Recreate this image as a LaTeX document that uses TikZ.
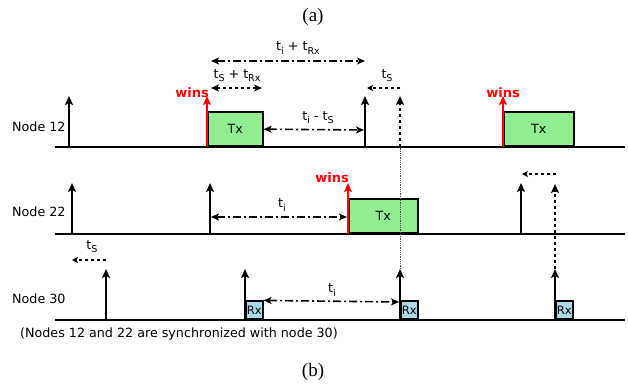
\documentclass[tikz,border=0pt]{standalone}
\usepackage{fontspec}
\setsansfont{DejaVu Sans}
\newfontfamily\capfont{Liberation Serif}
\usetikzlibrary{arrows.meta}
\definecolor{txgreen}{HTML}{90EE90}
\definecolor{rxblue}{HTML}{ADD8E6}
\newcommand{\sbs}[1]{\raisebox{-0.45ex}{\fontsize{9.5pt}{10pt}\selectfont #1}}
\begin{document}
\begin{tikzpicture}[x=1pt,y=-1pt,
  every node/.style={font=\sffamily\fontsize{12.7pt}{14pt}\selectfont, inner sep=0pt},
  baseline/.style={line width=2pt},
  tick/.style={line width=1.6pt,-{Stealth[length=9pt,width=8pt,inset=2pt]}},
  redtick/.style={tick, red, line width=2pt},
  dd/.style={line width=1.6pt, dash pattern=on 8pt off 3pt on 2pt off 3pt},
  ds/.style={line width=1.6pt, dash pattern=on 3.5pt off 2.5pt},
  both/.style={{Stealth[length=8pt,width=7pt,inset=2pt]}-{Stealth[length=8pt,width=7pt,inset=2pt]}},
  smalltip/.style={-{Stealth[length=6pt,width=6pt,inset=1.5pt]}},
  txbox/.style={draw, fill=txgreen, line width=1.6pt, anchor=south west, minimum width=55pt, minimum height=34pt},
  rxbox/.style={draw, fill=rxblue, line width=1.6pt, anchor=south west, minimum width=17pt, minimum height=18pt, font=\sffamily\fontsize{11.5pt}{12pt}\selectfont},
  wins/.style={red, font=\sffamily\bfseries\fontsize{13pt}{14pt}\selectfont}
]
\useasboundingbox (0,0) rectangle (628,383);

% captions
\node[font=\capfont\fontsize{19pt}{21pt}\selectfont] (capa) at (313,17) {(a)};
\node[font=\capfont\fontsize{19pt}{21pt}\selectfont] (capb) at (313,372) {(b)};

% node labels
\node[anchor=west] (n12) at (12,127) {Node 12};
\node[anchor=west] (n22) at (12,212) {Node 22};
\node[anchor=west] (n30) at (12,299) {Node 30};
\node[anchor=west] (note) at (20,334) {(Nodes 12 and 22 are synchronized with node 30)};

% ---------- baselines
\coordinate (b12a) at (55,147); \coordinate (b12b) at (625,147);
\coordinate (b22a) at (55,234); \coordinate (b22b) at (625,234);
\coordinate (b30a) at (55,320); \coordinate (b30b) at (625,320);
\draw[baseline] (b12a) -- (b12b);
\draw[baseline] (b22a) -- (b22b);
\draw[baseline] (b30a) -- (b30b);

% ---------- Node 30
\node[rxbox] (rx1) at (245,320) {Rx};
\node[rxbox] (rx2) at (400,320) {Rx};
\node[rxbox] (rx3) at (555,320) {Rx};
\coordinate (c30a) at (106,320); \coordinate (t30a) at (106,269);
\coordinate (t30b) at (245,269);
\coordinate (t30c) at (400,269);
\coordinate (t30d) at (555,269);
\draw[tick] (c30a) -- (t30a);
\draw[tick] (rx1.south west) -- (t30b);
\draw[tick] (rx2.south west) -- (t30c);
\draw[tick] (rx3.south west) -- (t30d);
\coordinate (s30a) at (106,260); \coordinate (s30b) at (72,260);
\draw[ds,smalltip] (s30a) -- (s30b);
\node (ls30) at (92,247) {t\sbs{S}};
\coordinate (i30b) at (399,302);
\draw[dd,both] (rx1.north east) -- (i30b);
\node (li30) at (332,290) {t\sbs{i}};

% ---------- Node 22
\node[txbox, minimum width=69pt] (tx3) at (348,234) {Tx};
\coordinate (c22a) at (72,234); \coordinate (t22a) at (72,183);
\coordinate (c22b) at (210,234); \coordinate (t22b) at (210,183);
\coordinate (t22r) at (348,183);
\coordinate (c22c) at (521,234); \coordinate (t22c) at (521,183);
\coordinate (t22d) at (555,184);
\draw[tick] (c22a) -- (t22a);
\draw[tick] (c22b) -- (t22b);
\draw[tick] (c22c) -- (t22c);
\draw[redtick] (tx3.south west) -- (t22r);
\node[wins, anchor=base east] (w22) at (349,182) {wins};
\draw[ds,-{Stealth[length=9pt,width=8pt,inset=2pt]}] (t30d) -- (t22d);
\coordinate (s22a) at (556,174); \coordinate (s22b) at (522,174);
\draw[ds,smalltip] (s22a) -- (s22b);
\coordinate (i22a) at (211,217); \coordinate (i22b) at (347,217);
\draw[dd,both] (i22a) -- (i22b);
\node (li22) at (282,205) {t\sbs{i}};

% ---------- Node 12
\node[txbox] (tx1) at (207,147) {Tx};
\node[txbox, minimum width=70pt] (tx2) at (503,147) {Tx};
\coordinate (c12a) at (69,147); \coordinate (t12a) at (69,96);
\coordinate (t12r1) at (207,96);
\coordinate (c12c) at (365,147); \coordinate (t12c) at (365,96);
\coordinate (c12d) at (400,147); \coordinate (t12d) at (400,96);
\coordinate (t12r2) at (503,96);
\draw[tick] (c12a) -- (t12a);
\draw[tick] (c12c) -- (t12c);
\draw[redtick] (tx1.south west) -- (t12r1);
\draw[redtick] (tx2.south west) -- (t12r2);
\node[wins, anchor=base east] (w12a) at (209,97) {wins};
\node[wins, anchor=base] (w12b) at (503,97) {wins};
\draw[ds,-{Stealth[length=9pt,width=8pt,inset=2pt]}] (c12d) -- (t12d);
\draw[line width=0.8pt, densely dotted, black!70] (t30c) -- (c12d);

\coordinate (a1) at (211,61); \coordinate (a2) at (365,61);
\draw[dd,both] (a1) -- (a2);
\node (la) at (298,48) {t\sbs{i} + t\sbs{Rx}};
\coordinate (b1) at (211,88); \coordinate (b2) at (262,88);
\draw[ds,both] (b1) -- (b2);
\node (lb) at (237,76) {t\sbs{S} + t\sbs{Rx}};
\coordinate (d1) at (400,88); \coordinate (d2) at (367,88);
\draw[ds,smalltip] (d1) -- (d2);
\node (ld) at (387,76) {t\sbs{S}};
\coordinate (e2) at (364,130);
\draw[dd,both] (tx1.east) -- (e2);
\node (le) at (318,118) {t\sbs{i} - t\sbs{S}};
\end{tikzpicture}
\end{document}
